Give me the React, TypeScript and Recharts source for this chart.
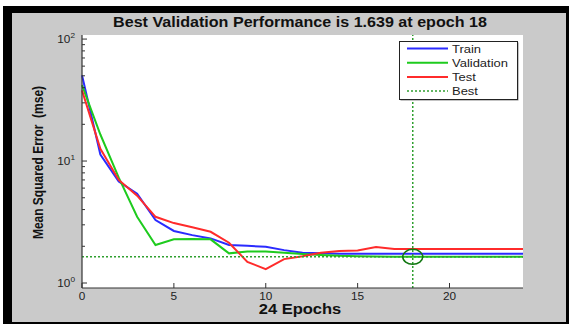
import React from "react";
import { LineChart, Line, XAxis, YAxis, CartesianGrid, ReferenceLine, ReferenceDot } from "recharts";

// epochs 0..24 and the three mse curves
const epochs = [0, 1, 2, 3, 4, 5, 6, 7, 8, 9, 10, 11, 12, 13, 14, 15, 16, 17, 18, 19, 20, 21, 22, 23, 24];
const trainMse = [50.5, 11.3, 6.8, 5.4, 3.28, 2.67, 2.47, 2.32, 2.05, 2.02, 1.98, 1.86, 1.77, 1.75, 1.74, 1.74, 1.74, 1.74, 1.74, 1.74, 1.74, 1.74, 1.74, 1.74, 1.74];
const validationMse = [42, 16.5, 7.3, 3.49, 2.05, 2.28, 2.29, 2.28, 1.75, 1.81, 1.81, 1.77, 1.73, 1.7, 1.67, 1.66, 1.65, 1.645, 1.639, 1.639, 1.639, 1.639, 1.639, 1.639, 1.639];
const testMse = [38, 12.6, 7.0, 5.2, 3.49, 3.1, 2.86, 2.63, 2.14, 1.49, 1.3, 1.57, 1.66, 1.77, 1.83, 1.85, 1.97, 1.9, 1.9, 1.9, 1.9, 1.9, 1.9, 1.9, 1.9];

const xTicks = [0, 5, 10, 15, 20];
const yMajorTicks = [1, 10, 100];
const yMinorTicks = [2, 3, 4, 5, 6, 7, 8, 9, 20, 30, 40, 50, 60, 70, 80, 90];

const bestEpoch = 18;
const bestMse = 1.639;

const legendItems = [
  { name: "Train", color: "#2b2bff", dash: undefined },
  { name: "Validation", color: "#1ecb1e", dash: undefined },
  { name: "Test", color: "#ff2b2b", dash: undefined },
  { name: "Best", color: "#2f9f2f", dash: "2 2" },
];

const FONT = "'Liberation Sans', Arial, sans-serif";
const STRETCH = 1.18; // the source screenshot is stretched sideways

function YTick(props: any) {
  const { x, y, payload } = props;
  const v = payload.value;
  const major = yMajorTicks.includes(v);
  const exp = Math.round(Math.log10(v));
  return (
    <g>
      <line x1={x} x2={x + (major ? 5 : 3)} y1={y} y2={y} stroke="#333" strokeWidth={1} />
      {major && (
        <text
          transform={`translate(${x - 7},${y + 4}) scale(${STRETCH},1)`}
          textAnchor="end"
          fontSize={10}
          fontFamily={FONT}
          fill="#222"
        >
          10
          <tspan dy={-5} fontSize={7}>
            {exp}
          </tspan>
        </text>
      )}
    </g>
  );
}

function XTick(props: any) {
  const { x, y, payload } = props;
  return (
    <g>
      <line x1={x} x2={x} y1={y} y2={y - 5} stroke="#333" strokeWidth={1} />
      <text
        transform={`translate(${x},${y + 12}) scale(${STRETCH},1)`}
        textAnchor="middle"
        fontSize={10}
        fontFamily={FONT}
        fill="#222"
      >
        {payload.value}
      </text>
    </g>
  );
}

export default function App() {
  const data = epochs.map((epoch, i) => ({
    epoch,
    train: trainMse[i],
    validation: validationMse[i],
    test: testMse[i],
  }));

  return (
    <div style={{ position: "absolute", left: 0, top: 0, width: 569, height: 324, background: "#fff" }}>
      {/* black frame + grey figure background */}
      <div style={{ position: "absolute", left: 3, top: 6, width: 566, height: 318, background: "#000" }} />
      <div style={{ position: "absolute", left: 12, top: 13, width: 554, height: 309, background: "#cacaca" }} />

      <div style={{ position: "absolute", left: 0, top: 0 }}>
        <LineChart width={569} height={324} data={data} margin={{ top: 35, right: 46, bottom: 0, left: 0 }}>
          <CartesianGrid fill="#ffffff" horizontal={false} vertical={false} />
          <XAxis
            dataKey="epoch"
            type="number"
            domain={[0, 24]}
            ticks={xTicks}
            interval={0}
            height={36}
            tickSize={0}
            tickMargin={0}
            tickLine={false}
            axisLine={{ stroke: "#333", strokeWidth: 1.2 }}
            tick={<XTick />}
          />
          <YAxis
            type="number"
            scale="log"
            domain={[0.91, 108]}
            allowDataOverflow
            ticks={[...yMajorTicks, ...yMinorTicks]}
            interval={0}
            width={82}
            tickSize={0}
            tickMargin={0}
            tickLine={false}
            axisLine={{ stroke: "#333", strokeWidth: 1.2 }}
            tick={<YTick />}
          />
          <Line type="linear" dataKey="train" stroke="#2b2bff" strokeWidth={2} dot={false} isAnimationActive={false} />
          <Line type="linear" dataKey="validation" stroke="#1ecb1e" strokeWidth={2} dot={false} isAnimationActive={false} />
          <Line type="linear" dataKey="test" stroke="#ff2b2b" strokeWidth={2} dot={false} isAnimationActive={false} />
          <ReferenceLine x={bestEpoch} stroke="#2f9f2f" strokeWidth={1.5} strokeDasharray="2 2" />
          <ReferenceLine y={bestMse} stroke="#2f9f2f" strokeWidth={1.5} strokeDasharray="2 2" />
          <ReferenceDot
            x={bestEpoch}
            y={bestMse}
            r={8}
            shape={(p: any) => (
              <ellipse cx={p.cx} cy={p.cy} rx={10} ry={7.5} fill="none" stroke="#117711" strokeWidth={1.5} />
            )}
          />
        </LineChart>
      </div>

      {/* title, axis labels and legend */}
      <svg width={569} height={324} style={{ position: "absolute", left: 0, top: 0, pointerEvents: "none" }}>
        <text
          transform={`translate(300,27) scale(1.15,1)`}
          textAnchor="middle"
          fontSize={14}
          fontWeight="bold"
          fontFamily={FONT}
          fill="#111"
        >
          Best Validation Performance is {bestMse} at epoch {bestEpoch}
        </text>
        <text
          transform={`translate(300,314) scale(${STRETCH},1)`}
          textAnchor="middle"
          fontSize={14}
          fontWeight="bold"
          fontFamily={FONT}
          fill="#111"
        >
          {epochs.length - 1} Epochs
        </text>
        <text
          transform={`translate(43,162.5) scale(${STRETCH},1) rotate(-90)`}
          textAnchor="middle"
          fontSize={12}
          fontWeight="bold"
          fontFamily={FONT}
          fill="#111"
          style={{ whiteSpace: "pre" }}
        >
          {"Mean Squared Error  (mse)"}
        </text>

        <rect x={400.5} y={42.5} width={118} height={58} fill="#888" />
        <rect x={399.5} y={41.5} width={118} height={58} fill="#fff" stroke="#222" strokeWidth={1} />
        {legendItems.map((item, i) => {
          const cy = 48.5 + i * 14.2;
          return (
            <g key={item.name}>
              <line
                x1={407}
                x2={448}
                y1={cy}
                y2={cy}
                stroke={item.color}
                strokeWidth={item.dash ? 1.5 : 2}
                strokeDasharray={item.dash}
              />
              <text
                transform={`translate(452,${cy + 4}) scale(${STRETCH},1)`}
                fontSize={11}
                fontFamily={FONT}
                fill="#222"
              >
                {item.name}
              </text>
            </g>
          );
        })}
      </svg>
    </div>
  );
}
